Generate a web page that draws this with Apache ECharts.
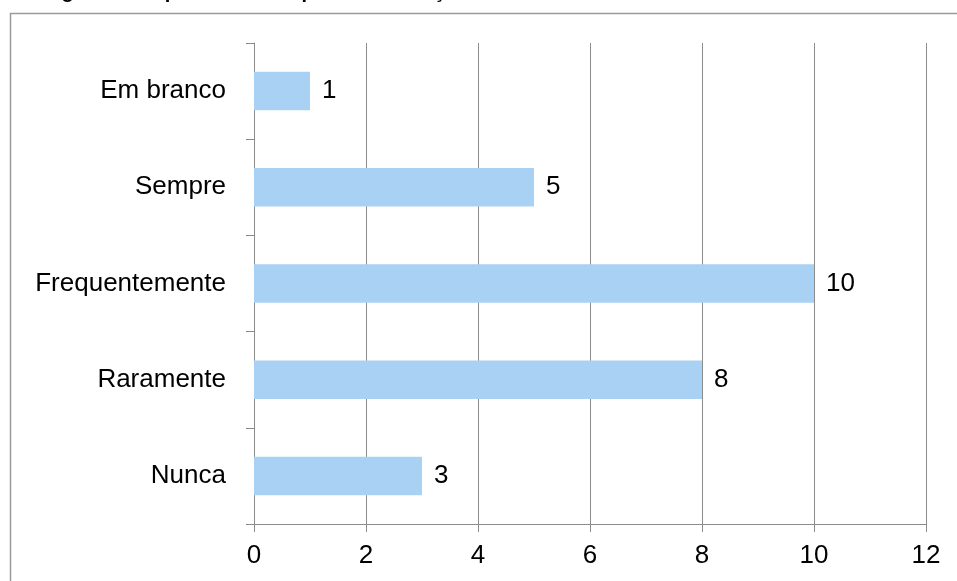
<!DOCTYPE html>
<html><head><meta charset="utf-8">
<script src="https://cdn.jsdelivr.net/npm/echarts@6/dist/echarts.min.js"></script>
<style>html,body{margin:0;padding:0;background:#fff}#c{width:957px;height:581px}</style>
</head><body><div id="c"></div>
<script>
const titleText = 'Imagem 4 – Importância do apoio na formação';
const categories = ['Nunca', 'Raramente', 'Frequentemente', 'Sempre', 'Em branco'];
const values = [3, 8, 10, 5, 1];
const xTicks = [0, 2, 4, 6, 8, 10, 12];

const chart = echarts.init(document.getElementById('c'));
const F = '"Liberation Sans", Arial, sans-serif';
chart.setOption({
  animation: false,
  title: {
    text: titleText, left: 22, top: -23,
    textStyle: { fontFamily: F, fontSize: 20, fontWeight: 'bold', color: '#000' }
  },
  graphic: [{
    type: 'rect', z: -1,
    shape: { x: 10.5, y: 13.5, width: 1000, height: 1000 },
    style: { fill: 'none', stroke: '#9a9a9a', lineWidth: 1.5 }
  }],
  grid: { left: 254, right: 31, top: 43, bottom: 57, containLabel: false },
  xAxis: {
    type: 'value', min: xTicks[0], max: xTicks[xTicks.length - 1], interval: 2,
    axisLine: { show: true, lineStyle: { color: '#8c8c8c', width: 1 } },
    axisTick: { show: true, length: 8, lineStyle: { color: '#8c8c8c' } },
    splitLine: { show: true, lineStyle: { color: '#8c8c8c', width: 1 } },
    axisLabel: { margin: 19, fontFamily: F, fontSize: 26, color: '#000' }
  },
  yAxis: {
    type: 'category', data: categories,
    axisLine: { show: true, lineStyle: { color: '#8c8c8c', width: 1 } },
    axisTick: { show: true, length: 8, alignWithLabel: false, lineStyle: { color: '#8c8c8c' } },
    axisLabel: { margin: 28, fontFamily: F, fontSize: 26, color: '#000', padding: [4, 0, 0, 0] }
  },
  series: [{
    type: 'bar', data: values, barWidth: '40%',
    itemStyle: { color: '#a9d1f3' },
    label: { show: true, position: 'right', distance: 12, fontFamily: F, fontSize: 26, color: '#000' }
  }]
});
</script></body></html>
